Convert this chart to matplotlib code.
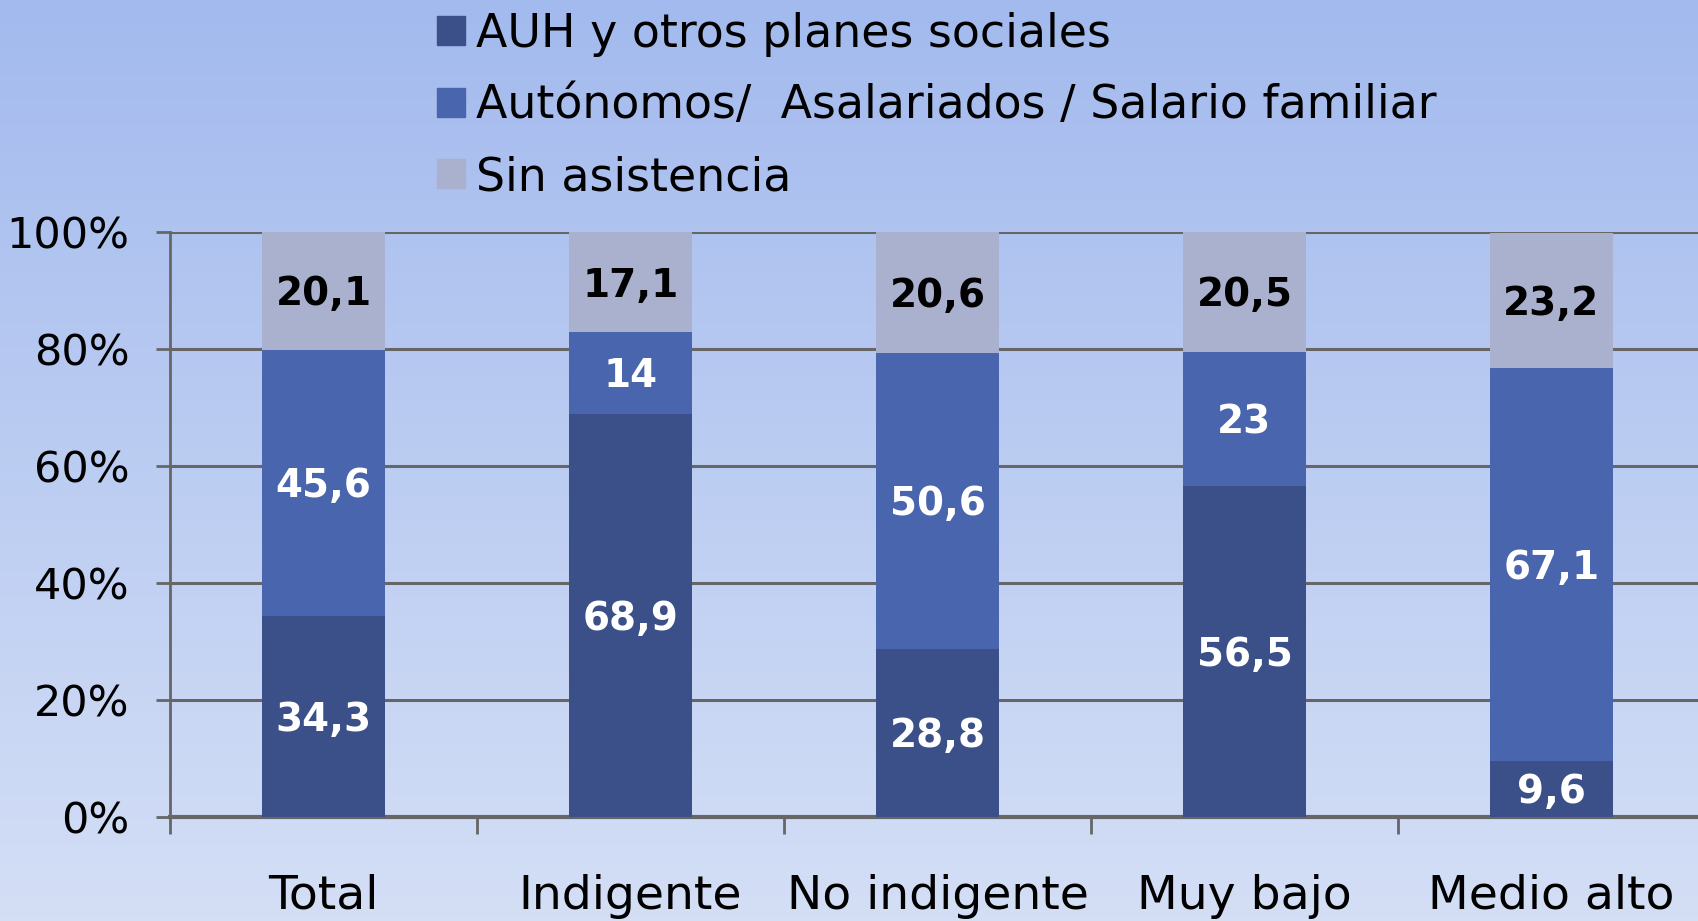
import matplotlib
matplotlib.use("Agg")
import matplotlib.pyplot as plt
import numpy as np
from matplotlib.patches import Rectangle

categories = ["Total", "Indigente", "No indigente", "Muy bajo", "Medio alto"]
auh = [34.3, 68.9, 28.8, 56.5, 9.6]
autonomos = [45.6, 14, 50.6, 23, 67.1]
sin_asistencia = [20.1, 17.1, 20.6, 20.5, 23.2]
series_names = ["AUH y otros planes sociales",
                "Autónomos/  Asalariados / Salario familiar",
                "Sin asistencia"]
yticks = [0, 20, 40, 60, 80, 100]

colors = ["#3b5088", "#4865ae", "#a9b1cf"]
text_colors = ["white", "white", "black"]
grid_c = "#666666"

W, H = 1699, 921
fig = plt.figure(figsize=(W / 100, H / 100), dpi=100)

# background gradient
bg = fig.add_axes([0, 0, 1, 1], zorder=-10)
top = np.array([163, 186, 238]) / 255
bot = np.array([212, 223, 246]) / 255
t = np.linspace(0, 1, 256)[:, None]
grad = top * (1 - t) + bot * t
bg.imshow(grad[:, None, :], aspect="auto", extent=[0, 1, 0, 1])
bg.axis("off")

left, right = 170 / W, 1705 / W
bottom, topy = (H - 817) / H, (H - 232) / H
ax = fig.add_axes([left, bottom, right - left, topy - bottom])
ax.set_facecolor("none")

x = np.arange(len(categories))
w = 0.40
stack = [auh, autonomos, sin_asistencia]
base = np.zeros(len(categories))
for vals, c, tc, name in zip(stack, colors, text_colors, series_names):
    vals = np.array(vals, dtype=float)
    ax.bar(x, vals, w, bottom=base, color=c, zorder=3, label=name)
    for xi, b, v in zip(x, base, vals):
        ax.text(xi, b + v / 2 - 0.6, f"{v:g}".replace(".", ","), ha="center", va="center",
                color=tc, fontsize=28, fontweight="bold", zorder=4)
    base += vals

ax.set_xlim(-0.5, len(categories) - 0.5)
ax.set_ylim(0, 100)
ax.set_yticks(yticks)
ax.set_yticklabels([f"{v}%" for v in yticks], fontsize=31)
ax.yaxis.grid(True, color=grid_c, linewidth=2.2, zorder=1)
ax.set_axisbelow(True)
ax.tick_params(axis="y", length=10, width=2, color=grid_c, pad=19)

ax.set_xticks(np.arange(len(categories) + 1) - 0.5)
ax.set_xticklabels([])
ax.tick_params(axis="x", which="major", length=12, width=2, color=grid_c)
ax.set_xticks(x, minor=True)
ax.set_xticklabels(categories, minor=True, fontsize=34)
ax.tick_params(axis="x", which="minor", length=0, pad=41)

for s in ["top", "right"]:
    ax.spines[s].set_visible(False)
ax.spines["left"].set_color(grid_c)
ax.spines["left"].set_linewidth(2)
ax.spines["bottom"].set_color(grid_c)
ax.spines["bottom"].set_linewidth(3)

handles = [Rectangle((0, 0), 1, 1, color=c) for c in colors]
fig.legend(handles, series_names, loc="upper left", bbox_to_anchor=(419 / W, 1.007),
           frameon=False, fontsize=33, handlelength=0.6, handleheight=0.6,
           handletextpad=0.25, labelspacing=0.58, borderaxespad=0.0)

fig.savefig("out.png", dpi=100)
